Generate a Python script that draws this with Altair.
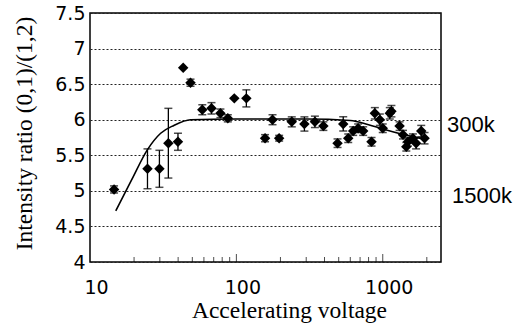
import altair as alt
import pandas as pd

# ---- data ----
voltage = [14.6, 24.7, 29.8, 34.3, 39.9, 43.3, 48.6, 58.5, 67.6, 77.8, 87.4, 96.8, 117,
           157, 176.6, 196, 239, 291.6, 344, 393, 491, 537, 581, 628, 679, 735, 838,
           883, 955, 1000, 1117, 1146, 1303, 1375, 1449, 1486, 1607, 1690, 1832, 1930]
ratio = [5.02, 5.31, 5.31, 5.67, 5.69, 6.73, 6.52, 6.14, 6.16, 6.09, 6.02, 6.30, 6.30,
         5.74, 6.00, 5.74, 5.97, 5.94, 5.97, 5.91, 5.67, 5.94, 5.74, 5.84, 5.88, 5.84, 5.69,
         6.09, 6.00, 5.88, 6.09, 6.12, 5.91, 5.79, 5.62, 5.69, 5.74, 5.67, 5.84, 5.74]
error = [0.05, 0.28, 0.26, 0.49, 0.12, 0.0, 0.05, 0.07, 0.08, 0.06, 0.05, 0.0, 0.12,
         0.05, 0.07, 0.04, 0.07, 0.10, 0.08, 0.06, 0.06, 0.10, 0.06, 0.06, 0.06, 0.06, 0.06,
         0.08, 0.08, 0.06, 0.08, 0.08, 0.06, 0.06, 0.06, 0.06, 0.06, 0.08, 0.08, 0.08]

curve_v = [15, 19.2, 24.7, 30.4, 37.4, 48.6, 100, 300, 600, 800, 1000, 1400, 1900]
curve_r = [4.72, 5.15, 5.58, 5.81, 5.92, 6.0, 6.01, 6.01, 5.99, 5.93, 5.87, 5.79, 5.73]

x_label_values = [10, 100, 1000]
major_ticks = [100, 1000]
minor_ticks = [20, 30, 40, 50, 60, 70, 80, 90, 200, 300, 400, 500, 600, 700, 800, 900, 2000]
y_values = [4, 4.5, 5, 5.5, 6, 6.5, 7, 7.5]

side_labels = ["300k", "1500k"]
side_label_y = [6, 5]

# ---- tables ----
pts = pd.DataFrame({"v": voltage, "r": ratio, "e": error})
pts["lo"] = pts["r"] - pts["e"]
pts["hi"] = pts["r"] + pts["e"]
bars = pts[pts["e"] > 0]
curve = pd.DataFrame({"v": curve_v, "r": curve_r})
majors = pd.DataFrame({"v": major_ticks, "r": [y_values[0]] * len(major_ticks)})
minors = pd.DataFrame({"v": minor_ticks, "r": [y_values[0]] * len(minor_ticks)})

xscale = alt.Scale(type="log", domain=[10, 2500], nice=False)
yscale = alt.Scale(domain=[4, 7.5], nice=False, zero=False)

xaxis = alt.Axis(
    title="Accelerating voltage", values=x_label_values, format="d",
    grid=False, ticks=False, domain=False, labelFlush=False,
    labelFont="DejaVu Sans", labelFontSize=19, labelColor="black",
    labelPadding=16, labelOffset=6, labelBaseline="top",
    titleFont="Liberation Serif", titleFontSize=23.5, titleFontWeight="normal",
    titleColor="black", titleX=199, titleY=55, titleBaseline="alphabetic",
)
yaxis = alt.Axis(
    title="Intensity ratio (0,1)/(1,2)", values=y_values, format="~g",
    grid=True, gridDash=[2, 2], gridColor="#222", gridWidth=1,
    ticks=False, domain=False,
    labelFont="DejaVu Sans", labelFontSize=19, labelColor="black", labelPadding=5,
    titleFont="Liberation Serif", titleFontSize=23.5, titleFontWeight="normal",
    titleColor="black", titleAngle=-90, titleX=-66, titleY=120,
    titleBaseline="middle", titleAlign="center",
)

def X(field):
    return alt.X(field, type="quantitative", scale=xscale, axis=xaxis)

def Y(field):
    return alt.Y(field, type="quantitative", scale=yscale, axis=yaxis)

line = alt.Chart(curve).mark_line(color="black", strokeWidth=1.6, interpolate="monotone").encode(
    x=X("v"), y=Y("r"))

rules = alt.Chart(bars).mark_rule(color="black", strokeWidth=1.3).encode(
    x=X("v"), y=Y("lo"), y2="hi")
cap_lo = alt.Chart(bars).mark_tick(color="black", orient="horizontal", size=8, thickness=1.5).encode(
    x=X("v"), y=Y("lo"))
cap_hi = alt.Chart(bars).mark_tick(color="black", orient="horizontal", size=8, thickness=1.5).encode(
    x=X("v"), y=Y("hi"))

points = alt.Chart(pts).mark_point(shape="diamond", filled=True, color="black", size=110, opacity=1).encode(
    x=X("v"), y=Y("r"))

maj = alt.Chart(majors).mark_tick(color="black", orient="vertical", size=8, thickness=1, yOffset=-4).encode(
    x=X("v"), y=Y("r"))
mino = alt.Chart(minors).mark_tick(color="black", orient="vertical", size=5, thickness=1, yOffset=-2.5).encode(
    x=X("v"), y=Y("r"))

layers = [line, rules, cap_lo, cap_hi, points, maj, mino]
dxs = [6, 11]
for lab, yv, dx in zip(side_labels, side_label_y, dxs):
    layers.append(
        alt.Chart(pd.DataFrame({"r": [yv], "t": [lab]})).mark_text(
            font="Liberation Sans", fontSize=22, color="black", align="left",
            baseline="middle", dx=dx, dy=5,
        ).encode(x=alt.X(datum=2500, type="quantitative", scale=xscale), y=Y("r"), text="t:N")
    )

chart = alt.layer(*layers).properties(
    width=351, height=249,
    autosize=alt.AutoSizeParams(type="none"),
    padding={"left": 90, "top": 13, "right": 77, "bottom": 62},
    background="white",
).configure_view(stroke="black", strokeWidth=1.5)

chart.save("out.html", embed_options={"renderer": "svg", "actions": False})
